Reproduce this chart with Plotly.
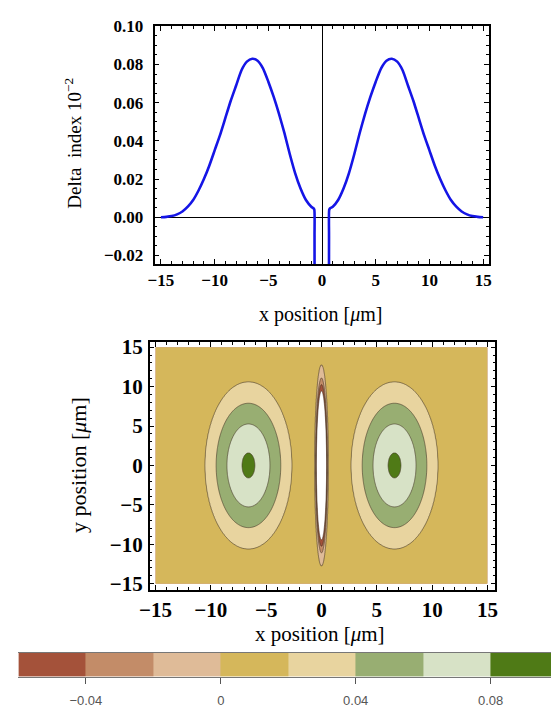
import numpy as np
import plotly.graph_objects as go

# ---------------- data: top profile ----------------
x_pos = [-15.0, -14.5, -14.0, -13.5, -13.0, -12.5, -12.0, -11.5, -11.0, -10.5, -10.0,
         -9.5, -9.0, -8.5, -8.0, -7.5, -7.0, -6.5, -6.0, -5.5, -5.0, -4.5, -4.0,
         -3.5, -3.0, -2.5, -2.0, -1.5, -1.0, -0.8, -0.72, -0.70, -0.69, None,
         0.64, 0.65, 0.67, 0.75, 1.0, 1.5, 2.0, 2.5, 3.0, 3.5, 4.0, 4.5, 5.0, 5.5,
         6.0, 6.5, 7.0, 7.5, 8.0, 8.5, 9.0, 9.5, 10.0, 10.5, 11.0, 11.5, 12.0,
         12.5, 13.0, 13.5, 14.0, 14.5, 15.0]
delta_index = [0.0, 0.0002, 0.0006, 0.0015, 0.003, 0.0055, 0.009, 0.014, 0.020, 0.027, 0.035,
               0.043, 0.052, 0.061, 0.069, 0.077, 0.0815, 0.083, 0.082, 0.078, 0.071, 0.063, 0.054,
               0.044, 0.033, 0.023, 0.015, 0.009, 0.0055, 0.0047, 0.004, -0.01, -0.06, None,
               -0.06, -0.01, 0.004, 0.0047, 0.0055, 0.009, 0.015, 0.023, 0.033, 0.044, 0.054, 0.063, 0.071, 0.078,
               0.082, 0.083, 0.0815, 0.077, 0.069, 0.061, 0.052, 0.043, 0.035, 0.027, 0.020, 0.014, 0.009,
               0.0055, 0.003, 0.0015, 0.0006, 0.0002, 0.0]

# ---------------- data: contour map ----------------
background_level = 0.005
blob_centers = [-6.6, 6.6]
blob_aspect = 2.7            # y half-axis / x half-axis of the rings
blob_r = [0.0, 0.59, 1.95, 2.92, 3.92, 5.0, 6.0, 30.0]   # x half-widths of ring boundaries
blob_v = [0.080, 0.075, 0.055, 0.035, 0.015, 0.005, 0.0, 0.0]   # above background
stripe_aspect = 20.5
stripe_r = [0.0, 0.36, 0.46, 0.50, 0.54, 0.62, 0.95, 30.0]
stripe_v = [-0.3, -0.12, -0.065, -0.045, -0.025, -0.005, 0.0, 0.0]  # relative to background

levels_start, levels_end, levels_size = -0.06, 0.08, 0.02
band_colors = ["#ffffff", "#a4523a", "#c38c68", "#dfbb98", "#d5b75b",
               "#e8d49f", "#98ae72", "#d7e2c6", "#4f7a16"]

# colorbar
cb_edges = [-0.06, -0.04, -0.02, 0.0, 0.02, 0.04, 0.06, 0.08, 0.12]
cb_colors = band_colors[1:]
cb_tickvals = [-0.04, 0.0, 0.04, 0.08]
cb_ticktext = ["\u22120.04", "0", "0.04", "0.08"]

# ---------------- build grid from the read profiles ----------------
xg = np.concatenate([np.arange(-15, -1.5, 0.1), np.arange(-1.5, 1.5, 0.02), np.arange(1.5, 15.0001, 0.1)])
yg = np.arange(-15, 15.0001, 0.12)
X, Y = np.meshgrid(xg, yg)
Z = np.full_like(X, background_level)
for c in blob_centers:
    rho = np.sqrt((X - c) ** 2 + (Y / blob_aspect) ** 2)
    Z += np.interp(rho, blob_r, blob_v)
rho_s = np.sqrt(X ** 2 + (Y / stripe_aspect) ** 2)
Z += np.interp(rho_s, stripe_r, stripe_v)

n = len(band_colors)
cscale = [[i / (n - 1), col] for i, col in enumerate(band_colors)]

serif = "Liberation Serif"

fig = go.Figure()
fig.add_trace(go.Scatter(x=x_pos, y=delta_index, mode="lines", connectgaps=False,
                         line=dict(color="#1515e6", width=2.6, shape="spline", smoothing=0.6),
                         xaxis="x", yaxis="y", showlegend=False, hoverinfo="skip"))
fig.add_trace(go.Contour(x=xg, y=yg, z=Z, xaxis="x2", yaxis="y2", autocontour=False,
                         contours=dict(start=levels_start, end=levels_end, size=levels_size, coloring="fill"),
                         colorscale=cscale, showscale=False,
                         line=dict(color="rgba(70,55,40,0.85)", width=0.7), hoverinfo="skip"))
nb = len(cb_colors)
cb_scale = []
for i, col in enumerate(cb_colors):
    cb_scale += [[i / nb, col], [(i + 1) / nb, col]]
fig.add_trace(go.Heatmap(x=cb_edges, y=[0, 1], z=[list(range(nb))], zmin=-0.5, zmax=nb - 0.5,
                         colorscale=cb_scale, showscale=False, xaxis="x3", yaxis="y3", hoverinfo="skip"))

frame = dict(showline=True, mirror="allticks", linecolor="black", linewidth=1.5,
             ticks="inside", ticklen=5, tickwidth=1, tickcolor="black", showgrid=False)
ticks15 = [-15, -10, -5, 0, 5, 10, 15]
ticks15_txt = ["\u221215", "\u221210", "\u22125", "0", "5", "10", "15"]

fig.update_layout(
    width=554, height=708, margin=dict(l=0, r=0, t=0, b=0),
    paper_bgcolor="white", plot_bgcolor="white",
    xaxis=dict(domain=[0.2671, 0.8845], range=[-15.6, 15.5], tickvals=ticks15, ticktext=ticks15_txt,
               minor=dict(dtick=1, ticklen=3, ticks="inside", tickcolor="black"),
               zeroline=True, zerolinecolor="black", zerolinewidth=1.2, ticklabelstandoff=0,
               tickfont=dict(family=serif, size=17, color="black", weight="bold"), anchor="y", **frame),
    yaxis=dict(domain=[0.6315, 0.975], range=[-0.0245, 0.10], tickvals=[-0.02, 0, 0.02, 0.04, 0.06, 0.08, 0.10],
               ticktext=["\u22120.02", "0.00", "0.02", "0.04", "0.06", "0.08", "0.10"],
               minor=dict(dtick=0.005, tick0=0, ticklen=3, ticks="inside", tickcolor="black"),
               zeroline=True, zerolinecolor="black", zerolinewidth=1.2, ticklabelstandoff=6,
               tickfont=dict(family=serif, size=17, color="black", weight="bold"), anchor="x", **frame),
    xaxis2=dict(domain=[0.2581, 0.8971], range=[-15.53, 15.71], tickvals=ticks15, ticktext=ticks15_txt,
                minor=dict(dtick=1, ticklen=3, ticks="inside", tickcolor="black"), zeroline=False,
                ticklabelstandoff=0,
                tickfont=dict(family=serif, size=21, color="black", weight="bold"), anchor="y2", **frame),
    yaxis2=dict(domain=[0.161, 0.5189], range=[-15.74, 15.66], tickvals=ticks15, ticktext=ticks15_txt,
                minor=dict(dtick=1, ticklen=3, ticks="inside", tickcolor="black"), zeroline=False,
                ticklabelstandoff=1,
                tickfont=dict(family=serif, size=21, color="black", weight="bold"), anchor="x2", **frame),
    xaxis3=dict(domain=[0.01552, 1.0], range=[-0.06, 0.0979], tickvals=cb_tickvals, ticktext=cb_ticktext,
                ticks="outside", ticklen=6, tickcolor="#555", showline=True, linecolor="#777", mirror=True,
                showgrid=False, zeroline=False, anchor="y3", ticklabelstandoff=6,
                tickfont=dict(family="Liberation Sans", size=13, color="#555")),
    yaxis3=dict(domain=[0.0349, 0.07], range=[0, 1], showticklabels=False, ticks="", showgrid=False,
                zeroline=False, showline=False, anchor="x3"),
    annotations=[
        dict(text="x position [<i>\u03bc</i>m]", x=0.5735, y=0.5588, xref="paper", yref="paper",
             xanchor="center", yanchor="middle",
             showarrow=False, font=dict(family=serif, size=20, color="black")),
        dict(text="Delta  index 10<sup>\u22122</sup>", x=0.1173, y=0.806, xref="paper", yref="paper",
             xanchor="center", yanchor="middle",
             textangle=-90, showarrow=False, font=dict(family=serif, size=19, color="black")),
        dict(text="x position [<i>\u03bc</i>m]", x=0.5735, y=0.0965, xref="paper", yref="paper",
             xanchor="center", yanchor="middle",
             showarrow=False, font=dict(family=serif, size=21, color="black")),
        dict(text="y position [<i>\u03bc</i>m]", x=0.128, y=0.3414, xref="paper", yref="paper",
             xanchor="center", yanchor="middle",
             textangle=-90, showarrow=False, font=dict(family=serif, size=22, color="black")),
    ],
)

fig.write_html("out.html")
